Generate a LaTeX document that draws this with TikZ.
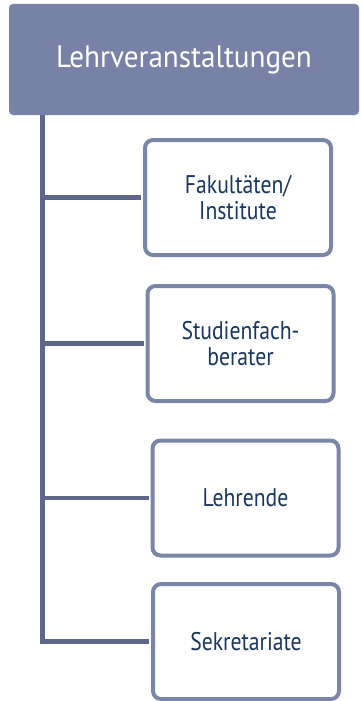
\documentclass[tikz,border=0pt]{standalone}
\usepackage{fontspec}
\setmainfont{PT Sans}[FakeStretch=0.85]
\newfontfamily\headfont{PT Sans}[FakeStretch=0.94]
\usepackage{xcolor}
\usetikzlibrary{positioning}
\definecolor{headfill}{HTML}{7782A6}
\definecolor{boxline}{HTML}{7A86A8}
\definecolor{spine}{HTML}{5F6788}
\definecolor{boxtext}{HTML}{18365F}

\begin{document}
\begin{tikzpicture}[x=1pt, y=-1pt,
  unit/.style={draw=boxline, line width=4pt, rounded corners=8pt, fill=white, text=boxtext, shape=rectangle, minimum width=186pt, minimum height=115pt, align=center, font=\fontsize{25.5}{26}\selectfont},
  branch/.style={draw=spine, line width=4.6pt, shorten >=2pt}]
\useasboundingbox (0,0) rectangle (360,701);
\node[fill=headfill, shape=rectangle, rounded corners=4pt, minimum width=350pt, minimum height=111pt, text=white, font=\headfont\fontsize{31}{36}\selectfont] (head) at (184,59.5) {Lehrveranstaltungen};
\node[unit] (fak) at (238,197.5) {Fakult\"aten/\\Institute};
\node[unit, below of=fak, node distance=146pt, xshift=2.5pt] (stud) {Studienfach-\\berater};
\node[unit, below of=stud, node distance=154.5pt, xshift=5pt] (lehr) {Lehrende};
\node[unit, below of=lehr, node distance=143.5pt, xshift=0.5pt] (sek) {Sekretariate};
\coordinate (root) at ([xshift=33.5pt]head.south west);
\draw[branch] (root) |- (sek.west);
\draw[branch] (root |- fak.west) -- (fak.west);
\draw[branch] (root |- stud.west) -- (stud.west);
\draw[branch] (root |- lehr.west) -- (lehr.west);
\end{tikzpicture}
\end{document}
